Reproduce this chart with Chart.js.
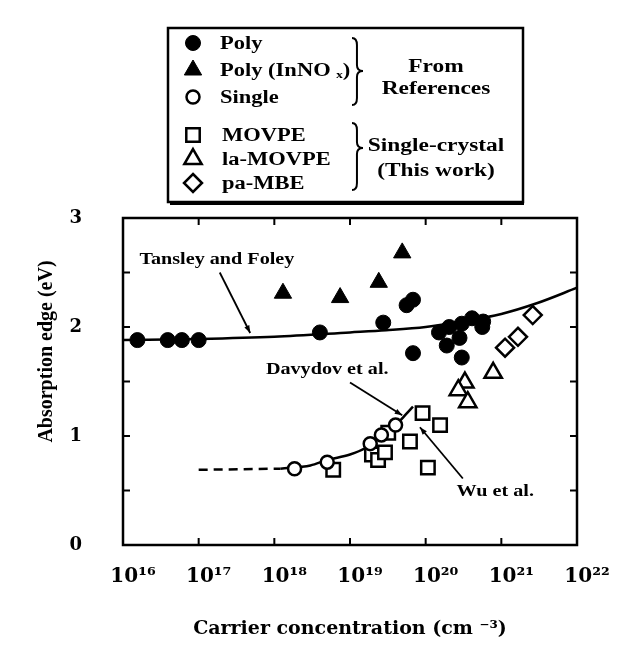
<!DOCTYPE html>
<html><head><meta charset="utf-8">
<script src="https://cdn.jsdelivr.net/npm/chart.js@4.4.1/dist/chart.umd.min.js"></script>
<style>html,body{margin:0;padding:0;background:#fff}#wrap{position:relative;width:636px;height:650px}</style>
</head><body><div id="wrap"><canvas id="c" width="636" height="650"></canvas></div>
<script>
// ---- data (carrier concentration in cm^-3, absorption edge in eV) ----
const xTickExponents = [16, 17, 18, 19, 20, 21, 22];
const yTickValues = [0, 0.5, 1, 1.5, 2, 2.5, 3];

const polyConc = [1.55e16, 3.9e16, 6.0e16, 1.0e17, 4.0e18, 2.75e19, 5.6e19, 6.8e19, 6.8e19, 1.5e20, 1.9e20, 2.05e20, 2.8e20, 3.0e20, 4.1e20, 5.75e20, 5.6e20, 3.0e20];
const polyEdge = [1.88, 1.88, 1.88, 1.88, 1.95, 2.04, 2.20, 2.25, 1.76, 1.95, 1.83, 2.00, 1.90, 2.03, 2.08, 2.05, 2.00, 1.72];

const polyInNOxConc = [1.3e18, 7.4e18, 2.4e19, 4.9e19];
const polyInNOxEdge = [2.31, 2.27, 2.41, 2.68];

const singleConc = [1.85e18, 5.0e18, 1.85e19, 2.6e19, 4.0e19];
const singleEdge = [0.70, 0.76, 0.93, 1.01, 1.10];

const movpeConc = [6.0e18, 1.95e19, 2.35e19, 2.9e19, 3.2e19, 6.2e19, 9.1e19, 1.55e20, 1.07e20];
const movpeEdge = [0.69, 0.83, 0.78, 0.85, 1.03, 0.95, 1.21, 1.10, 0.71];

const laMovpeConc = [3.3e20, 2.7e20, 3.6e20, 7.8e20];
const laMovpeEdge = [1.49, 1.42, 1.31, 1.58];

const paMbeConc = [1.12e21, 1.66e21, 2.6e21];
const paMbeEdge = [1.81, 1.91, 2.11];

const tansleyConc = [1e16, 1e17, 1e18, 1e19, 3e19, 1e20, 3e20, 1e21, 3e21, 1e22];
const tansleyEdge = [1.88, 1.89, 1.91, 1.95, 1.97, 2.00, 2.05, 2.12, 2.22, 2.36];

const wuDashConc = [1e17, 1.2e18];
const wuDashEdge = [0.69, 0.70];
const wuConc = [1.2e18, 3e18, 5e18, 1e19, 1.6e19, 2.5e19, 4e19, 5.5e19, 6.8e19];
const wuEdge = [0.70, 0.73, 0.78, 0.83, 0.89, 0.99, 1.10, 1.20, 1.27];

// annotation labels (data coordinates)
const annotations = [
  {text: 'Tansley and Foley', at: [1.74e17, 2.62], from: [1.9e17, 2.50], to: [4.8e17, 1.945]},
  {text: 'Davydov et al.', at: [5.0e18, 1.61], from: [1.0e19, 1.49], to: [4.9e19, 1.19]},
  {text: 'Wu et al.', at: [8.3e20, 0.49], from: [3.1e20, 0.61], to: [8.4e19, 1.08]}
];

const legendGroups = [
  {items: [['Poly', 'circle', true], ['Poly (InNO ₓ)', 'triangle', true], ['Single', 'circle', false]], label: ['From', 'References']},
  {items: [['MOVPE', 'rect', false], ['la-MOVPE', 'triangle', false], ['pa-MBE', 'rectRot', false]], label: ['Single-crystal', '(This work)']}
];

// ---- helpers ----
const SERIF = '"Liberation Serif", "Times New Roman", serif';
const WIDE = '"DejaVu Serif", "Liberation Serif", serif';
const SUP = {'0':'⁰','1':'¹','2':'²','3':'³','4':'⁴','5':'⁵','6':'⁶','7':'⁷','8':'⁸','9':'⁹','-':'⁻'};
const sup = n => String(n).split('').map(c => SUP[c] || c).join('');
const pts = (xs, ys) => xs.map((x, i) => ({x: x, y: ys[i]}));
const SIZES = {circleF: 7.5, circleO: 6.5, triangle: 10, rect: 9.5, rectRot: 9};
const STRETCH = 1.26;

function sText(ctx, text, x, y, align, sx) {
  ctx.save();
  ctx.translate(x, y);
  ctx.scale(sx, 1);
  ctx.textAlign = align;
  ctx.fillText(text, 0, 0);
  ctx.restore();
}

function marker(ctx, style, x, y, filled) {
  ctx.save();
  ctx.beginPath();
  let r;
  if (style === 'circle') { r = filled ? SIZES.circleF : SIZES.circleO; ctx.arc(x, y, r, 0, Math.PI * 2); }
  else if (style === 'triangle') {
    r = SIZES.triangle;
    ctx.moveTo(x, y - r);
    ctx.lineTo(x + r * Math.sin(2 * Math.PI / 3), y - r * Math.cos(2 * Math.PI / 3));
    ctx.lineTo(x + r * Math.sin(4 * Math.PI / 3), y - r * Math.cos(4 * Math.PI / 3));
    ctx.closePath();
  } else if (style === 'rect') { r = SIZES.rect; const s = Math.SQRT1_2 * r; ctx.rect(x - s, y - s, 2 * s, 2 * s); }
  else { r = SIZES.rectRot; ctx.moveTo(x, y - r); ctx.lineTo(x + r, y); ctx.lineTo(x, y + r); ctx.lineTo(x - r, y); ctx.closePath(); }
  ctx.fillStyle = filled ? '#000' : '#fff';
  ctx.fill();
  ctx.lineWidth = filled ? 1 : 2.5;
  ctx.strokeStyle = '#000';
  ctx.stroke();
  ctx.restore();
}

function brace(ctx, x, y0, y1, tipY, w) {
  ctx.beginPath();
  const xm = x + w * 0.45, xt = x + w;
  ctx.moveTo(x, y0);
  ctx.quadraticCurveTo(xm, y0, xm, y0 + 7);
  ctx.lineTo(xm, tipY - 6);
  ctx.quadraticCurveTo(xm, tipY, xt, tipY);
  ctx.quadraticCurveTo(xm, tipY, xm, tipY + 6);
  ctx.lineTo(xm, y1 - 7);
  ctx.quadraticCurveTo(xm, y1, x, y1);
  ctx.lineWidth = 2;
  ctx.strokeStyle = '#000';
  ctx.stroke();
}

const framePlugin = {
  id: 'frame',
  beforeDatasetsDraw(chart) {
    const {ctx, chartArea: a, scales: {x, y}} = chart;
    ctx.save();
    ctx.strokeStyle = '#000';
    ctx.lineWidth = 2.5;
    ctx.strokeRect(a.left, a.top, a.right - a.left, a.bottom - a.top);
    ctx.lineWidth = 2;
    ctx.beginPath();
    x.ticks.forEach(t => {
      const p = x.getPixelForValue(t.value);
      if (p <= a.left + 1 || p >= a.right - 1) return;
      ctx.moveTo(p, a.bottom); ctx.lineTo(p, a.bottom - 7);
      ctx.moveTo(p, a.top); ctx.lineTo(p, a.top + 7);
    });
    y.ticks.forEach(t => {
      const p = y.getPixelForValue(t.value);
      if (p <= a.top + 1 || p >= a.bottom - 1) return;
      ctx.moveTo(a.left, p); ctx.lineTo(a.left + 7, p);
      ctx.moveTo(a.right, p); ctx.lineTo(a.right - 7, p);
    });
    ctx.stroke();
    ctx.restore();
  },
  afterDraw(chart) {
    const {ctx, chartArea: a, scales: {x, y}} = chart;
    ctx.save();
    // y axis title
    ctx.translate(a.left - 76, (a.top + a.bottom) / 2 - 30);
    ctx.rotate(-Math.PI / 2);
    ctx.font = 'bold 20px ' + SERIF;
    ctx.fillStyle = '#000';
    ctx.textAlign = 'center';
    ctx.textBaseline = 'middle';
    ctx.fillText('Absorption edge (eV)', 0, 0);
    ctx.restore();

    // annotations with arrows
    ctx.save();
    ctx.font = 'bold 16px ' + SERIF;
    ctx.fillStyle = '#000';
    ctx.strokeStyle = '#000';
    ctx.textBaseline = 'middle';
    annotations.forEach(an => {
      sText(ctx, an.text, x.getPixelForValue(an.at[0]), y.getPixelForValue(an.at[1]), 'center', STRETCH);
      const x0 = x.getPixelForValue(an.from[0]), y0 = y.getPixelForValue(an.from[1]);
      const x1 = x.getPixelForValue(an.to[0]), y1 = y.getPixelForValue(an.to[1]);
      ctx.lineWidth = 1.8;
      ctx.beginPath(); ctx.moveTo(x0, y0); ctx.lineTo(x1, y1); ctx.stroke();
      const ang = Math.atan2(y1 - y0, x1 - x0), L = 8, W = 0.35;
      ctx.beginPath();
      ctx.moveTo(x1, y1);
      ctx.lineTo(x1 - L * Math.cos(ang - W), y1 - L * Math.sin(ang - W));
      ctx.lineTo(x1 - L * Math.cos(ang + W), y1 - L * Math.sin(ang + W));
      ctx.closePath(); ctx.fill();
    });
    ctx.restore();

    // legend box
    ctx.save();
    const bx = 168, by = 28, bw = 355, bh = 174;
    ctx.fillStyle = '#fff';
    ctx.fillRect(bx, by, bw, bh);
    ctx.strokeStyle = '#000';
    ctx.lineWidth = 2.5;
    ctx.strokeRect(bx, by, bw, bh);
    ctx.lineWidth = 2;
    ctx.beginPath(); ctx.moveTo(bx + 2, by + bh + 2); ctx.lineTo(bx + bw + 1, by + bh + 2); ctx.stroke();
    ctx.fillStyle = '#000';
    ctx.textBaseline = 'middle';
    const rowY = [[43, 70, 97], [135, 159, 183]];
    const braceY = [[38, 105, 71], [123, 190, 148]];
    const labelY = [[67, 89], [146, 171]];
    legendGroups.forEach((g, gi) => {
      g.items.forEach((it, ii) => {
        marker(ctx, it[1], 193, rowY[gi][ii], it[2]);
        ctx.font = 'bold 18px ' + SERIF;
        ctx.fillStyle = '#000';
        sText(ctx, it[0], gi === 0 ? 220 : 222, rowY[gi][ii] + 1, 'left', 1.25);
      });
      brace(ctx, 352, braceY[gi][0], braceY[gi][1], braceY[gi][2], 11);
      ctx.font = 'bold 18px ' + SERIF;
      sText(ctx, g.label[0], 436, labelY[gi][0], 'center', 1.3);
      sText(ctx, g.label[1], 436, labelY[gi][1], 'center', 1.3);
    });
    ctx.restore();
  }
};

const mk = (data, style, filled) => ({
  type: 'scatter', data: data, order: 0,
  pointStyle: style,
  pointRadius: style === 'circle' ? (filled ? SIZES.circleF : SIZES.circleO) : SIZES[style],
  pointBackgroundColor: filled ? '#000' : '#fff',
  pointBorderColor: '#000',
  pointBorderWidth: filled ? 1 : 2.5,
  showLine: false
});
const line = (data, dash) => ({
  type: 'line', data: data, order: 10,
  borderColor: '#000', borderWidth: 2.5, borderDash: dash || [],
  pointRadius: 0, fill: false, cubicInterpolationMode: 'monotone'
});

new Chart(document.getElementById('c'), {
  data: {
    datasets: [
      Object.assign(line(pts(tansleyConc, tansleyEdge)), {label: 'Tansley and Foley'}),
      Object.assign(line(pts(wuDashConc, wuDashEdge), [9, 6]), {label: 'Wu et al. (extrapolated)'}),
      Object.assign(line(pts(wuConc, wuEdge)), {label: 'Wu et al.'}),
      Object.assign(mk(pts(polyConc, polyEdge), 'circle', true), {label: 'Poly'}),
      Object.assign(mk(pts(polyInNOxConc, polyInNOxEdge), 'triangle', true), {label: 'Poly (InNOx)'}),
      Object.assign(mk(pts(singleConc, singleEdge), 'circle', false), {label: 'Single'}),
      Object.assign(mk(pts(movpeConc, movpeEdge), 'rect', false), {label: 'MOVPE'}),
      Object.assign(mk(pts(laMovpeConc, laMovpeEdge), 'triangle', false), {label: 'la-MOVPE'}),
      Object.assign(mk(pts(paMbeConc, paMbeEdge), 'rectRot', false), {label: 'pa-MBE'})
    ]
  },
  options: {
    responsive: false, animation: false, devicePixelRatio: 1,
    layout: {padding: {top: 218, right: 59, left: 0, bottom: 0}},
    plugins: {legend: {display: false}, tooltip: {enabled: false}},
    scales: {
      x: {
        type: 'logarithmic', position: 'bottom', min: 1e16, max: 1e22,
        grid: {display: false}, border: {display: false},
        afterBuildTicks: s => { s.ticks = xTickExponents.map(e => ({value: Math.pow(10, e)})); },
        afterFit: s => { s.height = 105; },
        ticks: {
          autoSkip: false, maxRotation: 0, color: '#000', padding: 12, labelOffset: 10,
          font: {family: WIDE, size: 20, weight: 'bold'},
          callback: v => '10' + sup(Math.round(Math.log10(v)))
        },
        title: {display: true, text: 'Carrier concentration (cm ' + sup('-3') + ')', color: '#000',
          font: {family: WIDE, size: 19, weight: 'bold'}, padding: {top: 0, bottom: 10}}
      },
      y: {
        type: 'linear', min: 0, max: 3,
        grid: {display: false}, border: {display: false},
        afterBuildTicks: s => { s.ticks = yTickValues.map(v => ({value: v})); },
        afterFit: s => { s.width = 123; },
        ticks: {
          autoSkip: false, color: '#000', padding: 33,
          font: {family: WIDE, size: 18, weight: 'bold'},
          callback: v => Number.isInteger(v) ? String(v) : ''
        }
      }
    }
  },
  plugins: [framePlugin]
});
</script></body></html>
